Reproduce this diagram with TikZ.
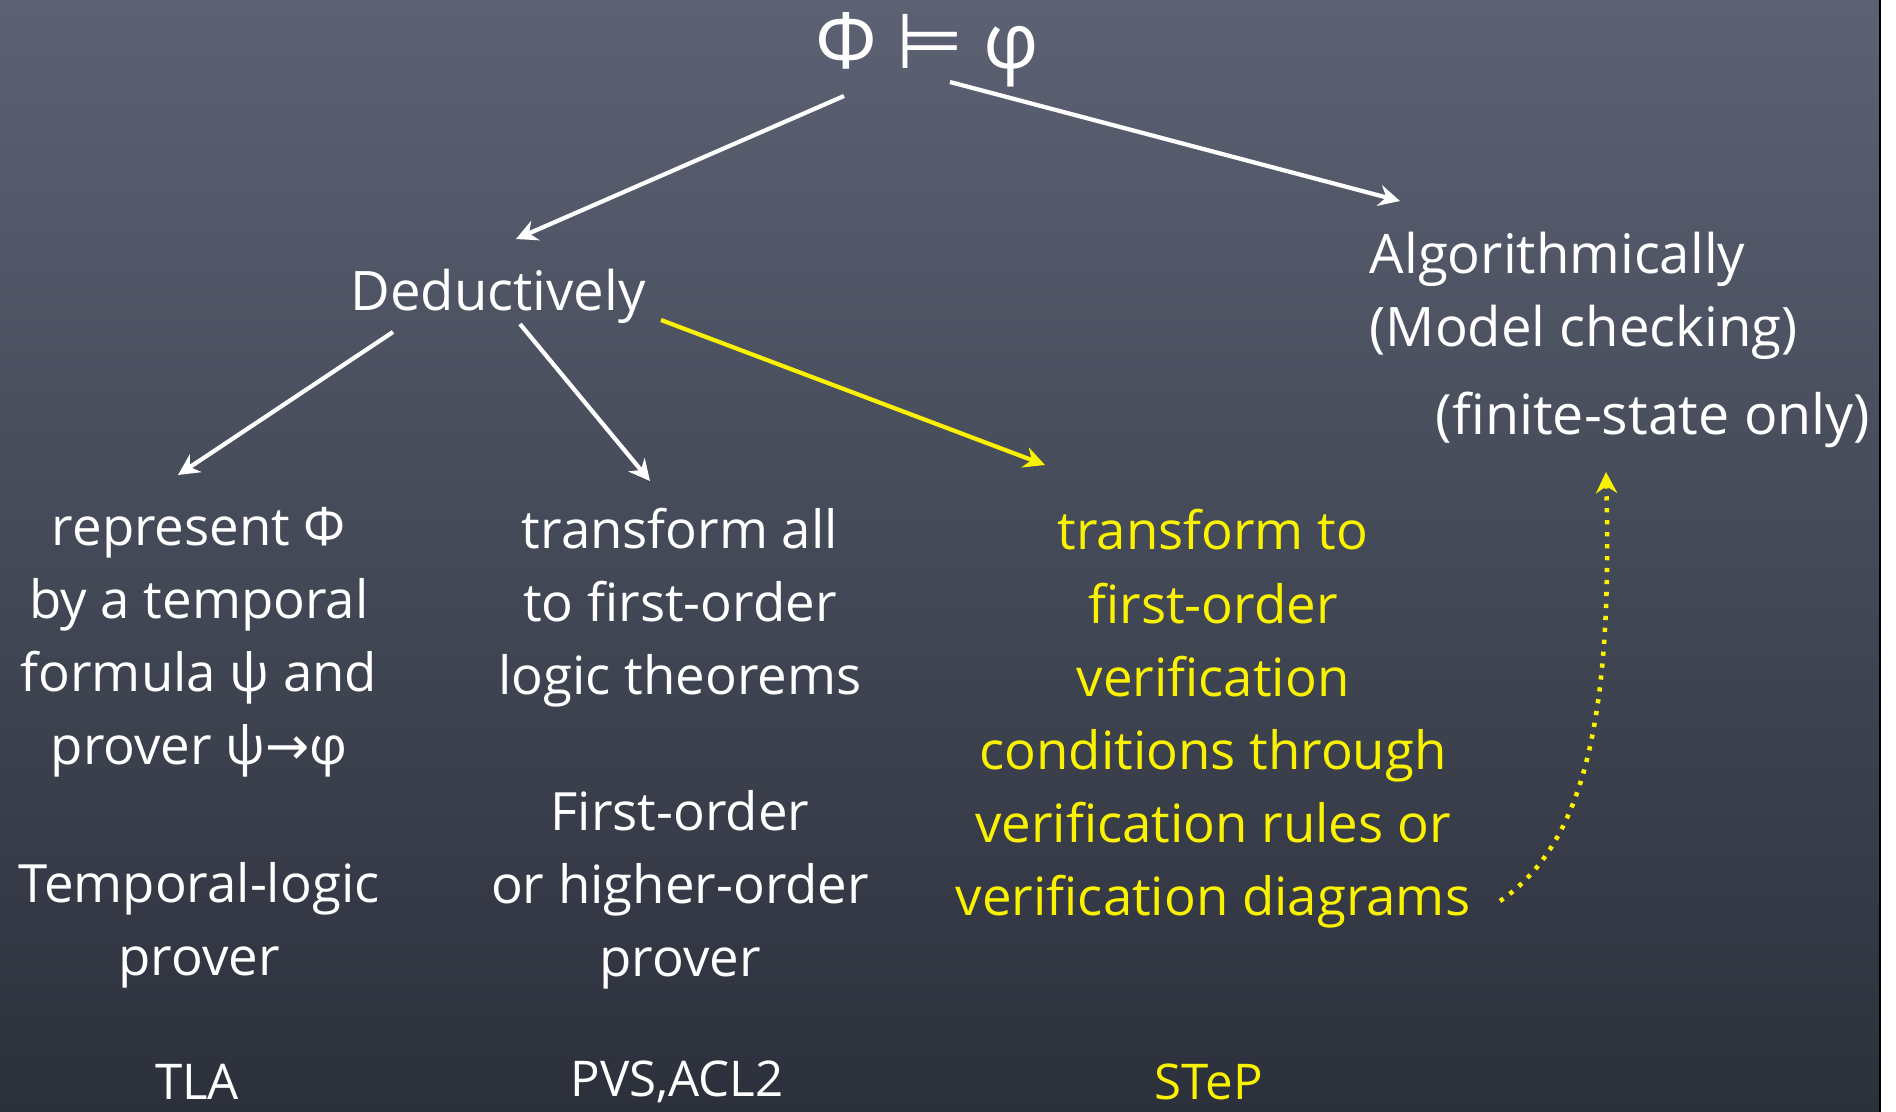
\documentclass[tikz,border=0pt]{standalone}
\usepackage{fontspec}
\setmainfont{Open Sans}
\newfontfamily\symfont{DejaVu Sans}
\usetikzlibrary{arrows.meta}
\definecolor{slatetop}{HTML}{5C6273}
\definecolor{slatebot}{HTML}{2C303B}
\definecolor{chalkyellow}{HTML}{FAF200}
\tikzset{
  txt/.style={text=white, align=center, inner sep=0pt, font=\fontsize{15}{20.8}\selectfont},
  ytxt/.style={txt, text=chalkyellow},
  wire/.style={draw=white, line width=1.2pt, -{Stealth[length=6pt,width=6pt]}},
  ywire/.style={wire, draw=chalkyellow, fill=chalkyellow},
}
\begin{document}
\begin{tikzpicture}[x=0.01cm, y=-0.01cm]
\useasboundingbox (0,0) rectangle (1896,1112);
\shade[top color=slatetop, bottom color=slatebot] (0,0) rectangle (1880,1112);
\fill[white] (1880,0) rectangle (1896,1112);
\draw[black, line width=0.4pt] (1880,0) -- (1880,1112);

\node[txt, font=\fontsize{22}{26}\selectfont] (top) at (927,50) {Φ\hspace{0.25em}{\symfont ⊨}\hspace{0.25em}φ};

\node[txt, font=\fontsize{15.5}{20}\selectfont] (ded) at (498,296) {Deductively};
\node[txt, anchor=west, align=left, font=\fontsize{15.5}{20.8}\selectfont] (alg) at (1369,296) {Algorithmically\\(Model\ checking)};
\node[txt, font=\fontsize{15.8}{20}\selectfont] (fin) at (1653,420) {(finite-state only)};

\node[txt] (rep) at (199,642) {represent Φ\\by a temporal\\formula ψ and\\prover ψ{\symfont →}φ};
\node[txt] (tlp) at (199,925) {Temporal-logic\\prover};
\node[txt, font=\fontsize{14}{20}\selectfont] (tla) at (197,1082) {TLA};

\node[txt] (tra) at (680,608) {transform all\\to first-order\\logic theorems};
\node[txt] (fop) at (680,890) {First-order\\or higher-order\\prover};
\node[txt, font=\fontsize{14}{20}\selectfont] (pvs) at (677,1082) {PVS,ACL2};

\node[ytxt] (vc) at (1213,719) {transform to\\first-order\\verification\\conditions through\\verification rules or\\verification diagrams};
\node[ytxt, font=\fontsize{14}{20}\selectfont] (stp) at (1209,1082) {STeP};

\coordinate (t1) at (844,96);
\coordinate (t2) at (950,82);
\coordinate (d0) at (516,239);
\coordinate (a0) at (1400,201);
\coordinate (d1) at (393,332);
\coordinate (d2) at (520,324);
\coordinate (d3) at (661,320);
\coordinate (r0) at (178,475);
\coordinate (m0) at (650,481);
\coordinate (y0) at (1045,465);
\coordinate (s0) at (1500,901);
\coordinate (f0) at (1606,472);

\draw[wire] (t1) -- (d0);
\draw[wire] (t2) -- (a0);
\draw[wire] (d1) -- (r0);
\draw[wire] (d2) -- (m0);
\draw[ywire] (d3) -- (y0);
\draw[draw=chalkyellow, line width=1.3pt, dash pattern=on 1.2pt off 2.2pt, -{Stealth[length=6pt,width=6pt,fill=chalkyellow]}]
  (s0) .. controls (1590,840) and (1612,700) .. (f0);
\end{tikzpicture}
\end{document}
